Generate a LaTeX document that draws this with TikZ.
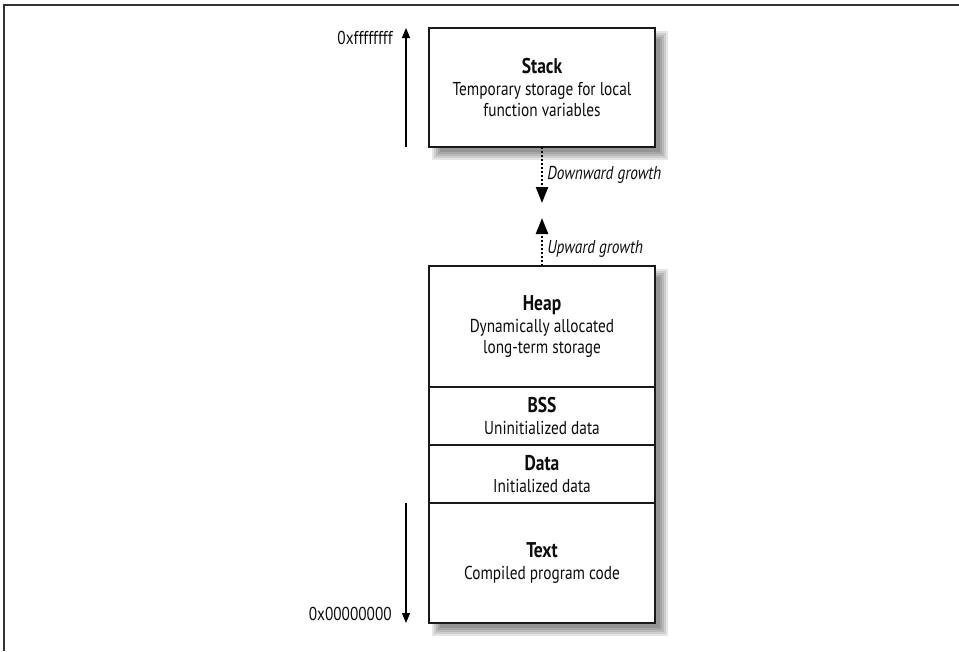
\documentclass[tikz,border=0pt]{standalone}
\usepackage{fontspec}
\setmainfont{PT Sans}[FakeStretch=0.82]
\usepackage{tikz}
\usetikzlibrary{arrows.meta, positioning, backgrounds}

\newcommand{\segtitle}[1]{{\fontsize{16}{15.5}\selectfont\bfseries #1}\\[1pt]}

\begin{document}
\begin{tikzpicture}[
    x=0.75pt, y=-0.75pt,
    segment/.style={draw=black!90, line width=2.2pt, fill=white,
                    outer sep=0pt, inner sep=0pt, anchor=north,
                    minimum width=226*0.75pt, align=center, text=black!95,
                    font=\fontsize{14}{15.5}\selectfont},
    growth/.style={line width=1.8pt, dash pattern=on 1.6pt off 1.4pt,
                   -{Triangle[length=12pt, width=9pt]}},
    growthlabel/.style={font=\itshape\fontsize{14}{15}\selectfont,
                        anchor=base west, inner sep=0pt, text=black!95},
    addr/.style={line width=0.9pt, -{Triangle[length=7.5pt, width=6pt]}},
    addrlabel/.style={font=\fontsize{14}{15}\selectfont,
                      anchor=base east, inner sep=0pt, text=black!95},
    frame/.style={draw=black!80, line width=1.3pt},
  ]
  \useasboundingbox (0,0) rectangle (959,651);
  \draw[frame] (959,5) -- (4,5) -- (4,651);

  % stack segment
  \node[segment, minimum height=119*0.75pt] (stack) at (542,28)
    {\segtitle{Stack}Temporary storage for local\\function variables};

  % heap and the segments below it
  \node[segment, minimum height=121*0.75pt] (heap) at (542,266)
    {\segtitle{Heap}Dynamically allocated\\long-term storage};
  \node[segment, minimum height=58*0.75pt] (bss) at (heap.south)
    {\segtitle{BSS}Uninitialized data};
  \node[segment, minimum height=58*0.75pt] (data) at (bss.south)
    {\segtitle{Data}Initialized data};
  \node[segment, minimum height=120*0.75pt] (text) at (data.south)
    {\segtitle{Text}Compiled program code};

  % shadows
  \begin{scope}[on background layer]
    \foreach \r in {5,3,1,-1,-3} {
      \fill[black, opacity=0.1] ([shift={({8-(\r)},{8-(\r)})}]stack.north west)
        rectangle ([shift={({8+(\r)},{8+(\r)})}]stack.south east);
      \fill[black, opacity=0.1] ([shift={({8-(\r)},{8-(\r)})}]heap.north west)
        rectangle ([shift={({8+(\r)},{8+(\r)})}]text.south east);
    }
  \end{scope}

  % growth arrows
  \coordinate (downtip) at (542,203);
  \coordinate (uptip) at (542,218);
  \draw[growth] (stack.south) -- (downtip);
  \draw[growth] (heap.north) -- (uptip);
  \node[growthlabel] (downlabel) at (547,179) {Downward growth};
  \node[growthlabel] (uplabel) at (547,253) {Upward growth};

  % address range
  \coordinate (addr) at (406,0);
  \draw[addr] (addr |- stack.south) -- (addr |- stack.north);
  \draw[addr] (addr |- text.north) -- (addr |- text.south);
  \node[addrlabel] (high) at (393,44) {0xffffffff};
  \node[addrlabel] (low) at (392,620) {0x00000000};
\end{tikzpicture}
\end{document}
